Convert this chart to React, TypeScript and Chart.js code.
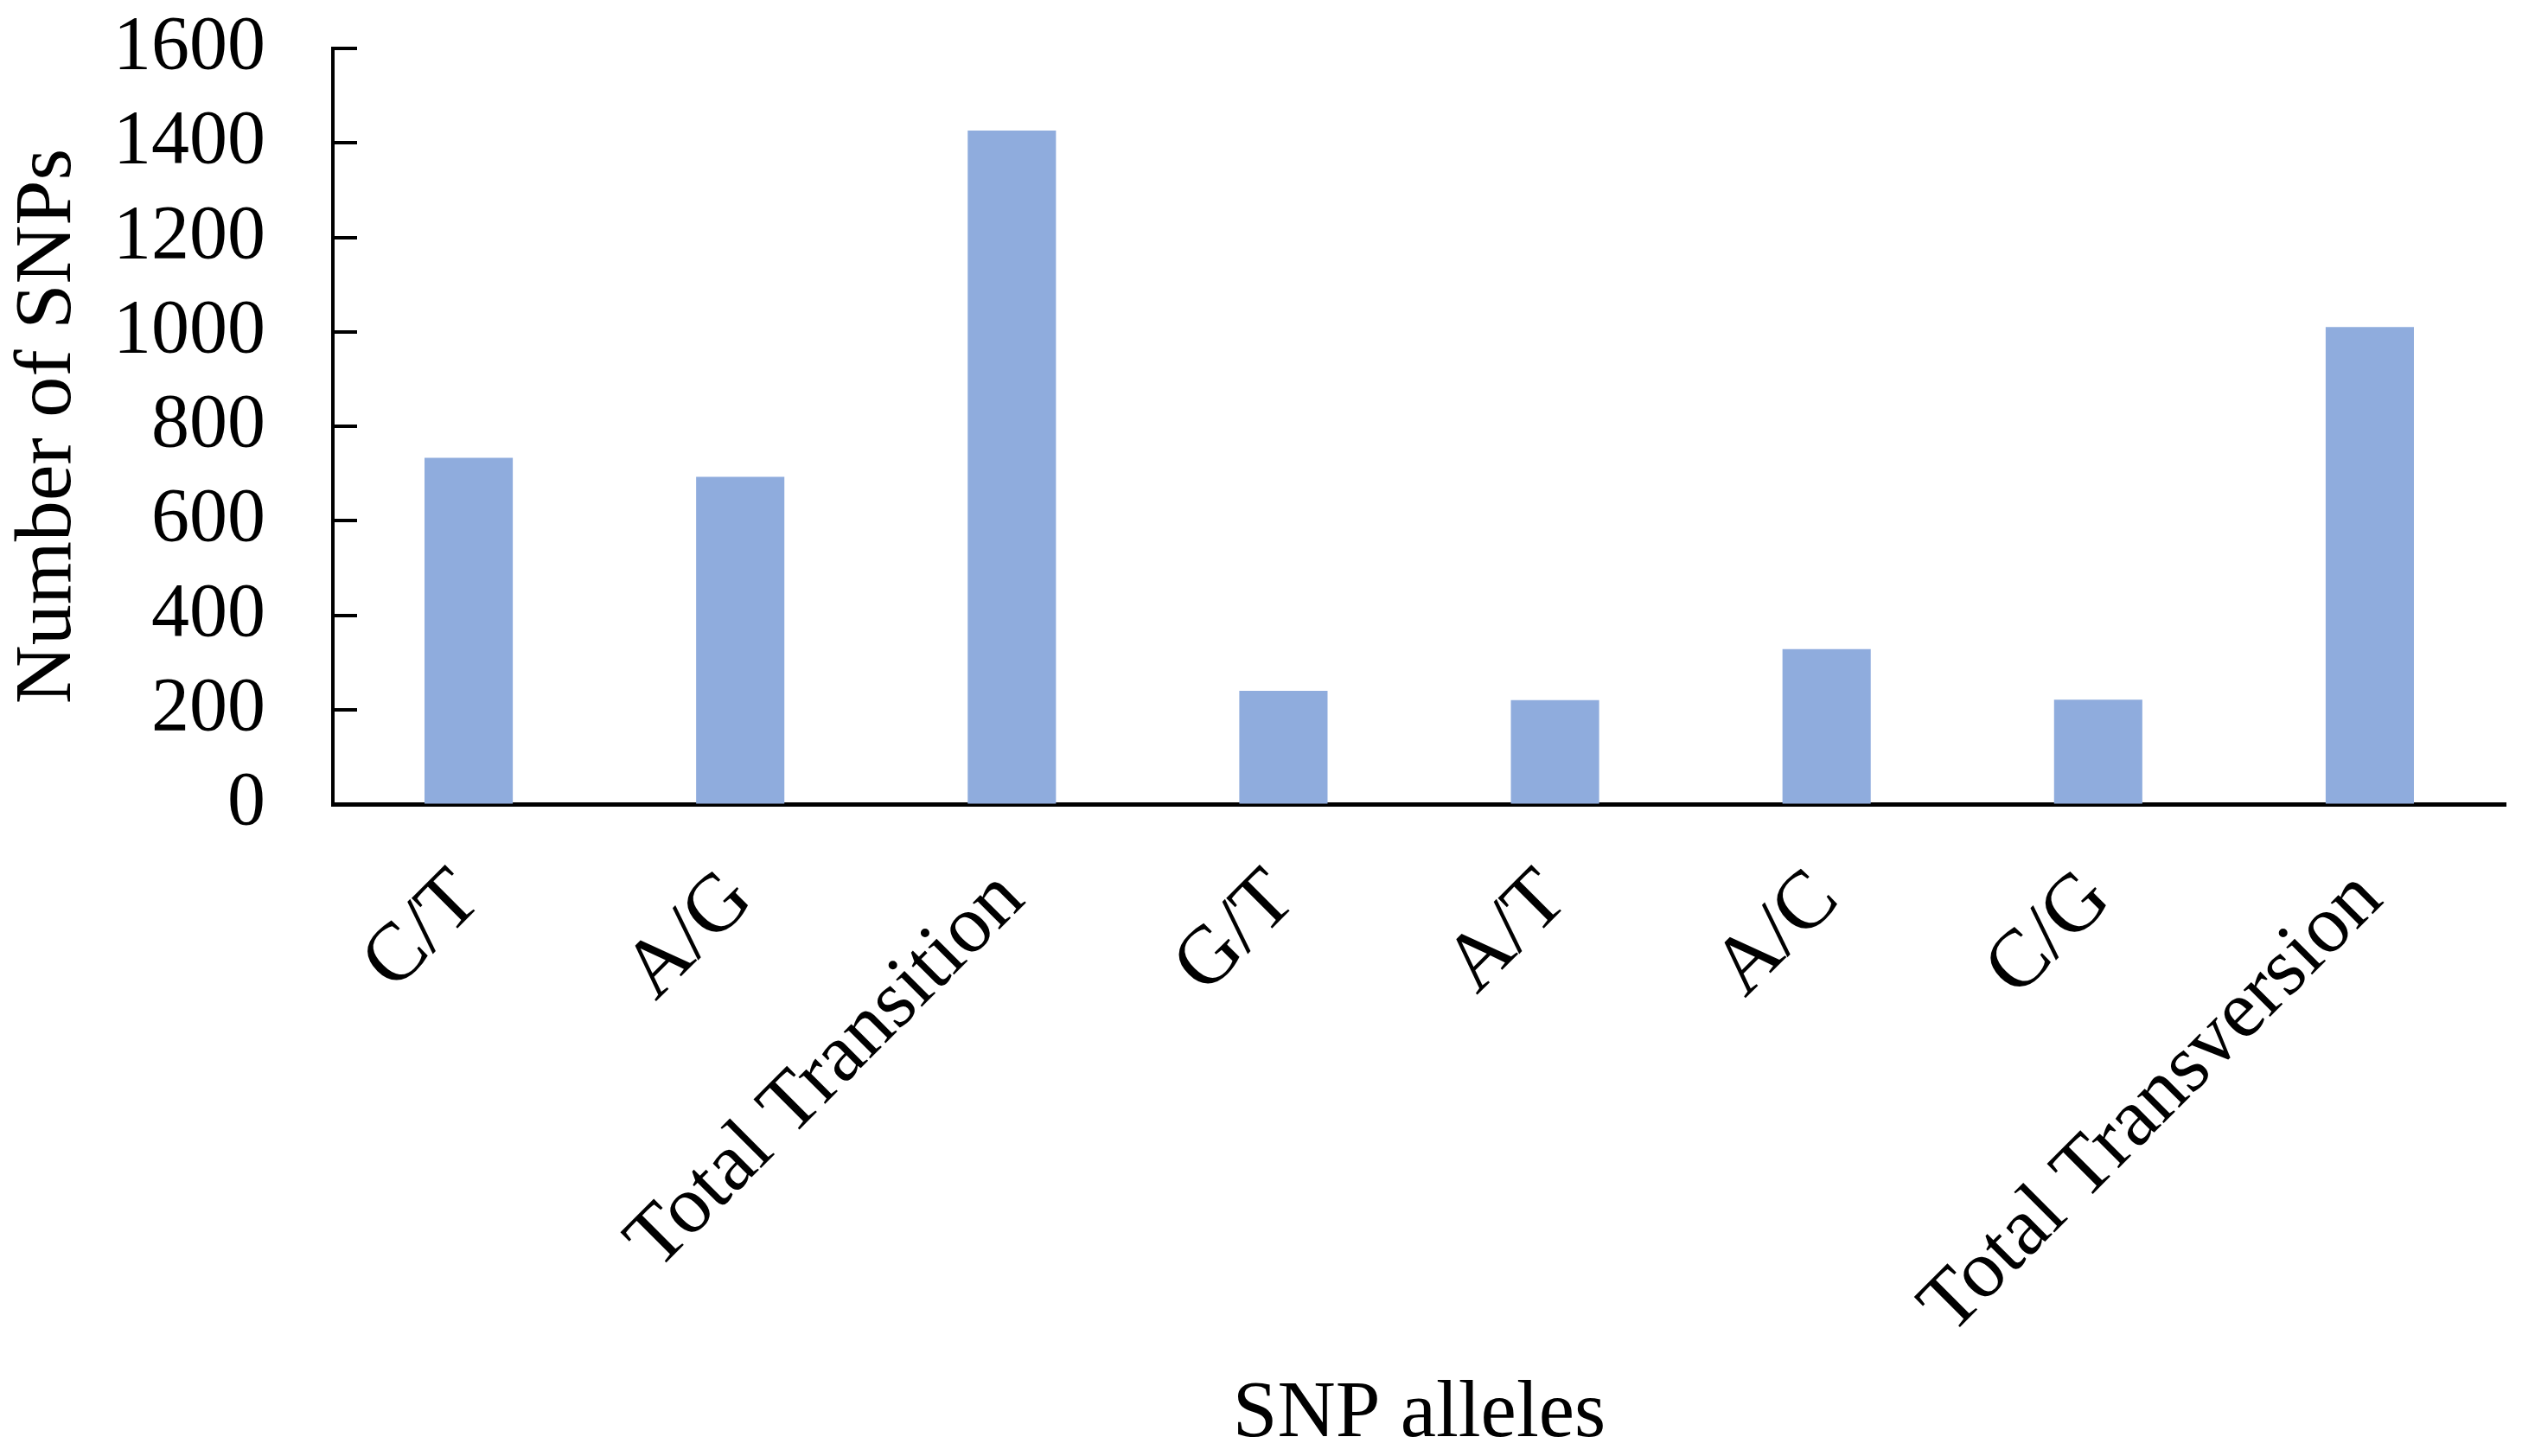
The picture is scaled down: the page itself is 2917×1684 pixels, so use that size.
import { useEffect, useRef } from 'react';
import { Chart, registerables } from 'chart.js';

Chart.register(...registerables);

const categories = ['C/T', 'A/G', 'Total Transition', 'G/T', 'A/T', 'A/C', 'C/G', 'Total Transversion'];
const snpCounts = [733, 693, 1426, 240, 220, 328, 221, 1010];
const yMin = 0;
const yMax = 1600;
const yStep = 200;

const FONT = '"Liberation Serif", "Times New Roman", serif';
const W = 2917;
const H = 1684;

const inwardTicks = {
  id: 'inwardTicks',
  afterDraw(chart: any) {
    const { ctx, chartArea } = chart;
    const ys = chart.scales.y;
    ctx.save();
    ctx.strokeStyle = '#000';
    ctx.lineWidth = 4;
    ys.ticks.forEach((t: any) => {
      const py = Math.round(ys.getPixelForValue(t.value));
      ctx.beginPath();
      ctx.moveTo(chartArea.left, py);
      ctx.lineTo(chartArea.left + 28, py);
      ctx.stroke();
    });
    ctx.restore();
  },
};

export default function App() {
  const ref = useRef<HTMLCanvasElement>(null);

  useEffect(() => {
    if (!ref.current) return;
    const chart = new Chart(ref.current, {
      type: 'bar',
      data: {
        labels: categories,
        datasets: [
          {
            data: snpCounts,
            backgroundColor: '#8FACDD',
            borderWidth: 0,
            categoryPercentage: 1,
            barPercentage: 0.325,
          },
        ],
      },
      options: {
        responsive: false,
        animation: false,
        devicePixelRatio: 1,
        layout: { padding: { top: 56, right: 19, bottom: 0, left: 0 } },
        plugins: {
          legend: { display: false },
          tooltip: { enabled: false },
        },
        scales: {
          x: {
            grid: {
              display: true,
              drawOnChartArea: false,
              drawTicks: true,
              tickLength: 55,
              color: 'rgba(0,0,0,0)',
            },
            border: { display: true, color: '#000', width: 5 },
            ticks: {
              autoSkip: false,
              minRotation: 45,
              maxRotation: 45,
              padding: 0,
              color: '#000',
              font: { family: FONT, size: 95 },
            },
            title: {
              display: true,
              text: 'SNP alleles',
              color: '#000',
              font: { family: FONT, size: 93, lineHeight: 1 },
              padding: { top: 0, bottom: 1 },
            },
            afterFit(scale: any) {
              scale.height = 754;
            },
          },
          y: {
            min: yMin,
            max: yMax,
            grid: {
              display: true,
              drawOnChartArea: false,
              drawTicks: true,
              tickLength: 78,
              color: 'rgba(0,0,0,0)',
            },
            border: { display: true, color: '#000', width: 4 },
            ticks: {
              stepSize: yStep,
              autoSkip: false,
              padding: 0,
              color: '#000',
              font: { family: FONT, size: 88 },
              callback: (v: any) => String(v),
            },
            title: {
              display: true,
              text: 'Number of SNPs',
              color: '#000',
              font: { family: FONT, size: 94, lineHeight: 1.15 },
              padding: { top: 2, bottom: 0 },
            },
            afterFit(scale: any) {
              scale.width = 385;
            },
          },
        },
      },
      plugins: [inwardTicks],
    });
    return () => chart.destroy();
  }, []);

  return (
    <div style={{ position: 'fixed', left: 0, top: 0, width: W, height: H, background: '#fff' }}>
      <canvas ref={ref} width={W} height={H} style={{ display: 'block', width: W, height: H }} />
    </div>
  );
}
